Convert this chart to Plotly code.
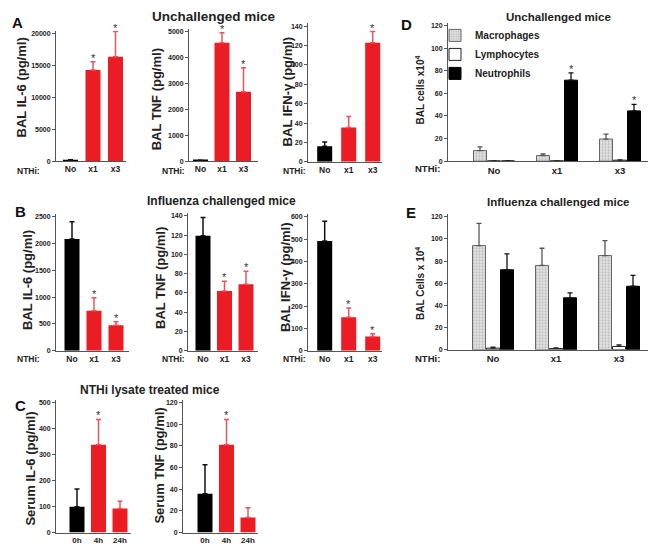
import plotly.graph_objects as go

# ---------------- data ----------------
treatments = ["No", "x1", "x3"]
timepoints = ["0h", "4h", "24h"]
cell_types = ["Macrophages", "Lymphocytes", "Neutrophils"]

# A: unchallenged mice (mean, upper error)
a_il6 = [150, 14300, 16400]
a_il6_err = [60, 1300, 3950]
a_tnf = [25, 4570, 2680]
a_tnf_err = [10, 380, 920]
a_ifn = [16, 35.5, 123]
a_ifn_err = [4.5, 11.3, 11.5]

# B: influenza challenged mice
b_il6 = [2086, 747, 475]
b_il6_err = [321, 241, 68]
b_tnf = [119.4, 62, 69]
b_tnf_err = [18.9, 10, 13.4]
b_ifn = [492, 150, 64]
b_ifn_err = [88, 42, 12]

# C: NTHi lysate treated mice (serum)
c_il6 = [99.5, 338, 93]
c_il6_err = [68.5, 97, 28]
c_tnf = [35.8, 81.2, 14]
c_tnf_err = [26.9, 23.3, 9]

# D: BAL cells, unchallenged
d_mac = [9.4, 5.0, 19.6]
d_mac_err = [3.2, 1.4, 4.4]
d_lym = [0.3, 0.3, 0.9]
d_lym_err = [0, 0, 0.2]
d_neu = [0.2, 71.7, 44.5]
d_neu_err = [0, 6.4, 5.8]

# E: BAL cells, influenza challenged
e_mac = [94, 76.1, 85]
e_mac_err = [20, 15.5, 13.5]
e_lym = [1.5, 1.2, 3.0]
e_lym_err = [0.9, 0.6, 1.5]
e_neu = [72.2, 46.9, 57.3]
e_neu_err = [14.4, 4.4, 9.9]

# significance markers (index of bars with *)
a_il6_star = [1, 2]
a_tnf_star = [1, 2]
a_ifn_star = [2]
b_il6_star = [1, 2]
b_tnf_star = [1, 2]
b_ifn_star = [1, 2]
c_il6_star = [1]
c_tnf_star = [1]
d_neu_star = [1, 2]

# ---------------- styling / layout ----------------
W, H = 656, 544
RED = "#EC1C24"
RED_ERR = "#E9545A"
BLACK = "#000000"
AXC = "#555555"
FONT = "Liberation Sans, Arial, sans-serif"


def xp(px):
    return px / W


def yp(py):
    return 1 - py / H


single_panels = [
    dict(cats=treatments, vals=a_il6, errs=a_il6_err, stars=a_il6_star,
         left=48, right=118, c0=62.5, sp=22.5, zero=153.3, ttop=25, tmax=20000, dtick=5000,
         ytitle="BAL IL-6 (pg/ml)", yt=(13, 79), nthi=(20, 163), xsize=8.5),
    dict(cats=treatments, vals=a_tnf, errs=a_tnf_err, stars=a_tnf_star,
         left=181, right=250, c0=192.5, sp=21.5, zero=153.3, ttop=22.7, tmax=5000, dtick=1000,
         ytitle="BAL TNF (pg/ml)", yt=(148, 91), nthi=(165, 163), xsize=8.5),
    dict(cats=treatments, vals=a_ifn, errs=a_ifn_err, stars=a_ifn_star,
         left=300, right=374, c0=316.7, sp=24, zero=154, ttop=17.3, tmax=140, dtick=20,
         ytitle="BAL IFN-γ (pg/ml)", yt=(279, 83), nthi=(286, 163), xsize=8.5),
    dict(cats=treatments, vals=b_il6, errs=b_il6_err, stars=b_il6_star,
         left=48, right=121, c0=64, sp=22, zero=344.3, ttop=209.3, tmax=2500, dtick=500,
         ytitle="BAL IL-6 (pg/ml)", yt=(20, 273), nthi=(20, 353), xsize=8.5),
    dict(cats=treatments, vals=b_tnf, errs=b_tnf_err, stars=b_tnf_star,
         left=180, right=250, c0=195, sp=21.5, zero=344.3, ttop=208.3, tmax=140, dtick=20,
         ytitle="BAL TNF (pg/ml)", yt=(152, 271), nthi=(165, 353), xsize=8.5),
    dict(cats=treatments, vals=b_ifn, errs=b_ifn_err, stars=b_ifn_star,
         left=300, right=374, c0=316.7, sp=24, zero=344.3, ttop=209.3, tmax=600, dtick=100,
         ytitle="BAL IFN-γ (pg/ml)", yt=(277, 270), nthi=(286, 353), xsize=8.5),
    dict(cats=timepoints, vals=c_il6, errs=c_il6_err, stars=c_il6_star,
         left=48, right=123, c0=69, sp=21.5, zero=527.5, ttop=396.5, tmax=500, dtick=100,
         ytitle="Serum IL-6 (pg/ml)", yt=(23, 463), nthi=None, xsize=8),
    dict(cats=timepoints, vals=c_tnf, errs=c_tnf_err, stars=c_tnf_star,
         left=175, right=250, c0=197, sp=21.5, zero=527.5, ttop=396.5, tmax=120, dtick=20,
         ytitle="Serum TNF (pg/ml)", yt=(152, 460), nthi=None, xsize=8),
]

group_panels = [
    dict(series=[(d_mac, d_mac_err), (d_lym, d_lym_err), (d_neu, d_neu_err)],
         stars=[[], [], d_neu_star], left=440, right=653, c0=486, sp=63,
         zero=153.3, ttop=16.7, tmax=120, dtick=20,
         ytitle="BAL cells x10<sup>4</sup>", yt=(412, 82), nthi=(419, 161), legend=True),
    dict(series=[(e_mac, e_mac_err), (e_lym, e_lym_err), (e_neu, e_neu_err)],
         stars=[[], [], []], left=440, right=653, c0=485, sp=63,
         zero=343.3, ttop=209.3, tmax=120, dtick=20,
         ytitle="BAL Cells x 10<sup>4</sup>", yt=(412, 277), nthi=(419, 352), legend=False),
]

series_styles = [
    dict(marker=dict(color="#E2E2E2", line=dict(color="#666666", width=1),
                     pattern=dict(shape=".", fgcolor="#8C8C8C", size=3, solidity=0.35)),
         err_color="#555555"),
    dict(marker=dict(color="#FFFFFF", line=dict(color="#222222", width=1)), err_color="#222222"),
    dict(marker=dict(color="#000000", line=dict(color="#000000", width=1)), err_color="#111111"),
]

fig = go.Figure()
layout = dict(
    width=W, height=H, autosize=False,
    margin=dict(l=0, r=0, t=0, b=0),
    paper_bgcolor="white", plot_bgcolor="white",
    font=dict(family=FONT, color="#222222"),
    showlegend=True,
    legend=dict(x=xp(427), y=yp(12), xanchor="left", yanchor="top",
                bgcolor="rgba(0,0,0,0)", font=dict(size=10, weight="bold", color="#222"),
                itemwidth=30, tracegroupgap=0),
    hovermode=False,
)
annotations = []


def label(x, y, text, size, color="#222", angle=0):
    return dict(x=xp(x), y=yp(y), xref="paper", yref="paper", text=text,
                xanchor="center", yanchor="middle", textangle=angle, showarrow=False,
                font=dict(size=size, weight="bold", color=color))


def axis_pair(i, p, cats, xsize):
    sfx = "" if i == 1 else str(i)
    top_px = p["ttop"] - 3
    ymax = p["tmax"] * (p["zero"] - top_px) / (p["zero"] - p["ttop"])
    r0 = -(p["c0"] - p["left"]) / p["sp"]
    r1 = r0 + (p["right"] - p["left"]) / p["sp"]
    xa = dict(domain=[xp(p["left"]), xp(p["right"])], anchor="y" + sfx,
              range=[r0, r1], showline=True, linecolor=AXC, linewidth=1,
              ticks="", showgrid=False, zeroline=False, fixedrange=True,
              tickfont=dict(size=xsize, weight="bold", color="#222"),
              type="category", categoryorder="array", categoryarray=cats)
    ya = dict(domain=[yp(p["zero"]), yp(top_px)], anchor="x" + sfx,
              range=[0, ymax], dtick=p["dtick"], tick0=0, tickformat="d",
              showline=True, linecolor=AXC, linewidth=1, ticks="outside",
              ticklen=3, tickwidth=1, tickcolor=AXC, showgrid=False, zeroline=False,
              fixedrange=True, tickfont=dict(size=7, weight="bold", color="#222"))
    layout["xaxis" + sfx] = xa
    layout["yaxis" + sfx] = ya
    return "x" + sfx, "y" + sfx


def star(x, y, xr, yr):
    return dict(x=x, y=y, xref=xr, yref=yr, text="*", showarrow=False,
                xanchor="center", yanchor="bottom", yshift=-4,
                font=dict(size=11, color="#333"))


idx = 0
for p in single_panels:
    idx += 1
    xr, yr = axis_pair(idx, p, p["cats"], p["xsize"])
    bw = 15 / p["sp"]
    color_of = [BLACK] + [RED] * (len(p["cats"]) - 1)
    for col, ecol in [(BLACK, "#111111"), (RED, RED_ERR)]:
        sel = [k for k in range(len(p["cats"])) if color_of[k] == col]
        fig.add_trace(go.Bar(
            x=[p["cats"][k] for k in sel], y=[p["vals"][k] for k in sel],
            width=bw, offset=-bw / 2, xaxis=xr, yaxis=yr, showlegend=False,
            marker=dict(color=col, line=dict(width=0)),
            error_y=dict(type="data", symmetric=False,
                         array=[p["errs"][k] for k in sel], arrayminus=[0] * len(sel),
                         color=ecol, thickness=1.5, width=2.5),
        ))
    for k in p["stars"]:
        annotations.append(star(p["cats"][k], p["vals"][k] + p["errs"][k], xr, yr))
    annotations.append(label(p["yt"][0], p["yt"][1], p["ytitle"], 13, angle=-90))
    if p["nthi"]:
        annotations.append(label(p["nthi"][0], p["nthi"][1], "NTHi:", 8.5))

bar_w = 13 / 63
bar_step = 14 / 63
for p in group_panels:
    idx += 1
    xr, yr = axis_pair(idx, p, treatments, 9.5)
    for s, ((vals, errs), sty) in enumerate(zip(p["series"], series_styles)):
        center = (s - 1) * bar_step
        fig.add_trace(go.Bar(
            x=treatments, y=vals, name=cell_types[s],
            width=bar_w, offset=center - bar_w / 2, xaxis=xr, yaxis=yr,
            showlegend=p["legend"], marker=sty["marker"],
            error_y=dict(type="data", symmetric=False, array=errs,
                         arrayminus=[0] * len(errs), color=sty["err_color"],
                         thickness=1.3, width=2.5),
        ))
        for k in p["stars"][s]:
            annotations.append(star(k + center, vals[k] + errs[k], xr, yr))
    annotations.append(label(p["yt"][0], p["yt"][1], p["ytitle"], 10, angle=-90))
    annotations.append(label(p["nthi"][0], p["nthi"][1], "NTHi:", 9.5))

# titles and panel letters
titles = [
    ("Unchallenged mice", 206, 8, 13.5),
    ("Influenza challenged mice", 213, 193, 12),
    ("NTHi lysate treated mice", 142, 384, 12),
    ("Unchallenged mice", 550, 8, 11.5),
    ("Influenza challenged mice", 550, 194, 11.5),
]
for t, x, y, s in titles:
    annotations.append(label(x, y, t, s))

letters = [("A", 9, 14), ("B", 12, 204), ("C", 12, 399), ("D", 398, 16), ("E", 403, 205)]
for t, x, y in letters:
    annotations.append(label(x, y, t, 15, color="#111"))

layout["annotations"] = annotations
fig.update_layout(**layout)
fig.write_html("out.html")
